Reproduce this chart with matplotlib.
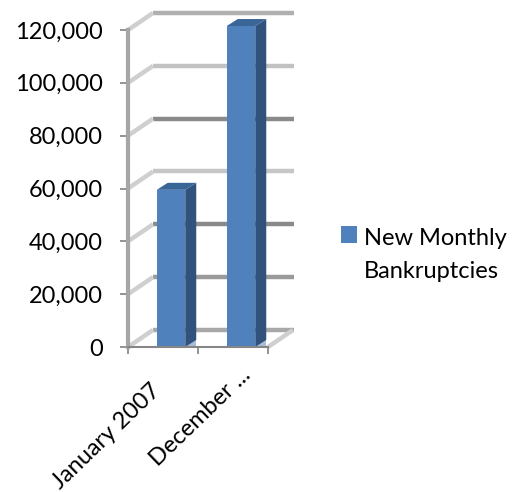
import matplotlib
matplotlib.use('Agg')
import matplotlib.pyplot as plt
from matplotlib.patches import Polygon

categories = ['January 2007', 'December ...']
bankruptcies = [59500, 121500]
y_ticks = [0, 20000, 40000, 60000, 80000, 100000, 120000]
grid_colors = ['#a8a8a8', '#9a9a9a', '#8a8a8a', '#c6c6c6', '#8a8a8a', '#c2c2c2', '#b0b0b0']
series_name = 'New Monthly\nBankruptcies'

W, H = 521, 492
LEFT, RIGHT, BOTTOM, TOP = 128, 268, 347, 30

plt.rcParams['font.family'] = ['Lato', 'DejaVu Sans']

fig = plt.figure(figsize=(W / 100, H / 100), dpi=100)
ax = fig.add_axes([LEFT / W, 1 - BOTTOM / H, (RIGHT - LEFT) / W, (BOTTOM - TOP) / H])
ax.set_xlim(0, 2)
ax.set_ylim(0, 120000)
ax.patch.set_alpha(0)

px_x = 2 / (RIGHT - LEFT)
px_y = 120000 / (BOTTOM - TOP)

# back wall gridlines and the slanted lines down the side wall
wall_dx, wall_dy = 25 * px_x, 17 * px_y
for v, c in zip(y_ticks, grid_colors):
    ax.plot([wall_dx, 2 + wall_dx + px_x], [v + wall_dy, v + wall_dy], color=c, lw=3.2,
            solid_capstyle='butt', clip_on=False, zorder=1)
    ax.plot([0, wall_dx], [v, v + wall_dy], color='#cfcfcf', lw=3.2,
            solid_capstyle='butt', clip_on=False, zorder=1)
ax.plot([2, 2 + wall_dx], [0, wall_dy], color='#cfcfcf', lw=3.2,
        solid_capstyle='butt', clip_on=False, zorder=1)

# bars with their fake 3d side and top
positions = [0.5, 1.5]
bar_w = 28.5 * px_x
dx, dy = 11 * px_x, 7 * px_y
shift = 8 * px_x
for p, v in zip(positions, bankruptcies):
    x0 = p - bar_w / 2 + shift
    x1 = x0 + bar_w
    ax.add_patch(Polygon([(x1, 0), (x1 + dx, dy), (x1 + dx, v + dy), (x1, v)],
                         fc='#31527c', ec='none', zorder=3, clip_on=False))
    ax.add_patch(Polygon([(x0, v), (x0 + dx, v + dy), (x1 + dx, v + dy), (x1, v)],
                         fc='#3a6597', ec='none', zorder=3, clip_on=False))
    ax.add_patch(Polygon([(x1, 0), (x1 + dx, 0), (x1 + dx, dy)],
                         fc='#a9bdd6', ec='none', zorder=2, clip_on=False))
bars = ax.bar([p + shift for p in positions], bankruptcies, width=bar_w,
              color='#4f81bd', label=series_name, zorder=4, clip_on=False)

for s in ['top', 'right']:
    ax.spines[s].set_visible(False)
ax.spines['left'].set_color('#a6a6a6')
ax.spines['left'].set_linewidth(3)
ax.spines['left'].set_zorder(5)
ax.spines['bottom'].set_color('#868686')
ax.spines['bottom'].set_linewidth(1.5)
ax.spines['bottom'].set_zorder(5)

ax.set_yticks(y_ticks)
ax.set_yticklabels(['{:,}'.format(v) for v in y_ticks], va='center_baseline')
ax.tick_params(axis='y', length=6, width=1.2, color='#808080', labelsize=17, pad=12)
ax.set_xticks([0, 1, 2])
ax.set_xticklabels([])
ax.tick_params(axis='x', which='major', length=5, width=1.2, color='#808080')

# category labels do not sit evenly under the bars in the original
label_offsets = [(-6, -41), (14, -25)]
for p, name, off in zip(positions, categories, label_offsets):
    ax.annotate(name, xy=(p, 0), xytext=off, textcoords='offset pixels', rotation=44,
                ha='right', va='center', rotation_mode='anchor', fontsize=17,
                annotation_clip=False)

leg = fig.legend(handles=[bars], loc='center left', bbox_to_anchor=(341 / W, 1 - 255 / H),
                 frameon=False, fontsize=17, handlelength=0.68, handleheight=0.68,
                 handletextpad=0.3, borderpad=0, borderaxespad=0, labelspacing=0)
leg.get_texts()[0].set_linespacing(1.65)
# the swatch sits beside the first line of the label
leg.legend_handles[0].set_y(15)

plt.savefig('out.png', dpi=100)
